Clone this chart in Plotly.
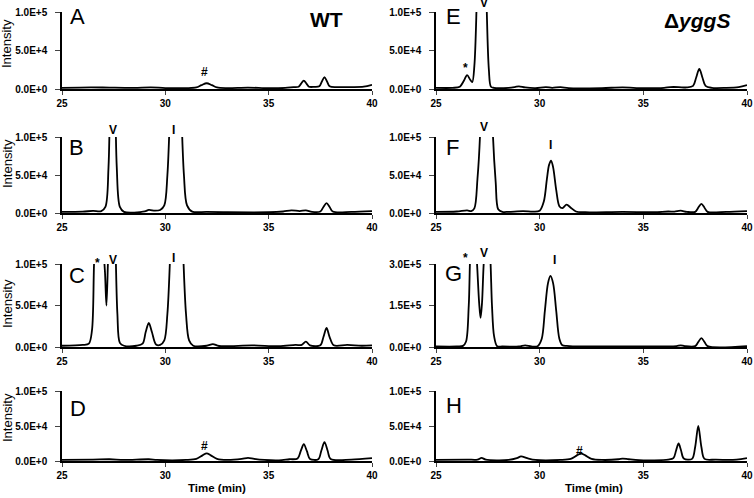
import plotly.graph_objects as go

W, H = 754, 498

# ---- chromatogram traces (time in min, intensity) ----
# A: WT, first sample
time_a = [25.0, 26.4, 27.3, 28.5, 29.3, 30.0, 31.0, 31.5, 31.75, 32.0, 32.25, 32.5, 33.0, 34.0, 35.0, 35.8,
          36.2, 36.45, 36.57, 36.7, 36.83, 36.95, 37.2, 37.45, 37.57, 37.7, 37.83, 37.95, 38.3, 39.0, 39.6, 40.0]
int_a = [1500, 2200, 1800, 1500, 2200, 1200, 1200, 2000, 5000, 7500, 5000, 2000, 1200, 1800, 1000, 1500,
         2500, 3000, 7000, 11000, 7000, 3000, 2800, 3500, 9500, 15500, 9500, 3500, 2500, 2500, 3000, 5500]

# B: WT
time_b = [25.0, 26.0, 26.5, 26.9, 27.1, 27.25, 27.35, 27.45, 27.55, 27.65, 27.8, 28.0, 29.0, 29.2, 29.5, 29.75,
          29.95, 30.1, 30.25, 30.5, 30.75, 30.9, 31.05, 31.3, 32.0, 33.0, 35.0, 35.7, 36.1, 36.5, 36.8, 37.1,
          37.5, 37.65, 37.8, 37.95, 38.1, 39.0, 40.0]
int_b = [1500, 1800, 2800, 2500, 8000, 60000, 200000, 300000, 200000, 60000, 8000, 1500, 2000, 4000, 3000, 4000,
         10000, 50000, 150000, 300000, 150000, 50000, 10000, 1800, 1500, 1000, 1000, 2000, 3500, 2500, 3500, 1500,
         2000, 8000, 13000, 8000, 2000, 1500, 2500]

# C: WT
time_c = [25.0, 26.0, 26.3, 26.45, 26.55, 26.7, 26.85, 26.98, 27.08, 27.15, 27.22, 27.35, 27.5, 27.6, 27.68,
          27.8, 28.0, 28.6, 28.9, 29.05, 29.2, 29.35, 29.55, 29.75, 29.95, 30.1, 30.25, 30.55, 30.85, 31.0,
          31.15, 31.35, 32.0, 32.3, 32.6, 34.2, 35.5, 36.3, 36.6, 36.8, 37.0, 37.5, 37.65, 37.8, 37.95, 38.15,
          38.8, 39.5, 40.0]
int_c = [1500, 2500, 4000, 20000, 100000, 200000, 200000, 130000, 90000, 50000, 100000, 250000, 220000, 110000,
         40000, 5000, 1500, 1500, 4000, 18000, 29000, 18000, 3000, 2500, 8000, 40000, 120000, 300000, 120000,
         40000, 8000, 1500, 1500, 3500, 1200, 2000, 1000, 2500, 2500, 6500, 2000, 2000, 12000, 23000, 12000,
         2000, 2500, 1500, 2000]

# D: WT
time_d = [25.0, 26.5, 27.3, 28.0, 29.2, 29.6, 31.0, 31.5, 31.8, 32.0, 32.2, 32.5, 33.0, 33.7, 34.0, 34.3, 34.8,
          35.5, 36.0, 36.4, 36.55, 36.7, 36.85, 37.0, 37.4, 37.55, 37.7, 37.85, 38.0, 39.0, 40.0]
int_d = [1500, 2000, 2500, 1500, 2500, 1500, 1500, 3000, 8000, 11000, 8000, 3000, 1500, 3000, 4500, 3000, 1500,
         1000, 2500, 3500, 14000, 24000, 14000, 3000, 2500, 15000, 27000, 15000, 3000, 2000, 4000]

# E: delta yggS
time_e = [25.0, 25.8, 26.15, 26.35, 26.5, 26.65, 26.75, 26.85, 26.95, 27.05, 27.2, 27.35, 27.45, 27.55, 27.65,
          27.8, 28.5, 28.8, 29.0, 29.3, 29.8, 30.3, 30.6, 31.0, 31.4, 33.0, 34.0, 35.0, 36.0, 36.3, 36.7, 37.1,
          37.4, 37.55, 37.7, 37.85, 38.0, 38.3, 39.0, 39.6, 40.0]
int_e = [1500, 1500, 3000, 11000, 18000, 12000, 9000, 30000, 100000, 250000, 350000, 250000, 100000, 25000,
         3000, 1500, 1500, 2500, 3500, 2000, 1200, 2500, 1500, 2500, 1200, 1200, 2000, 1000, 1500, 2500, 2500,
         2000, 4000, 15000, 26000, 15000, 4000, 1500, 1500, 2500, 5000]

# F: delta yggS
time_f = [25.0, 26.0, 26.5, 26.7, 26.85, 27.0, 27.12, 27.25, 27.45, 27.62, 27.75, 27.88, 28.0, 28.2, 28.5,
          29.2, 29.7, 30.0, 30.2, 30.35, 30.45, 30.55, 30.65, 30.8, 30.95, 31.1, 31.3, 31.5, 31.75, 32.2, 34.0,
          35.5, 36.2, 36.5, 36.8, 37.1, 37.5, 37.65, 37.8, 37.95, 38.1, 39.0, 40.0]
int_f = [1500, 2000, 3500, 2500, 6000, 45000, 100000, 250000, 450000, 250000, 100000, 40000, 5000, 1500, 1500,
         2500, 1800, 3000, 15000, 45000, 63000, 69000, 60000, 30000, 9000, 6500, 11000, 7000, 2000, 1000, 1500,
         1000, 2000, 1800, 3000, 1500, 1500, 7000, 12000, 7000, 1500, 1500, 2500]

# G: delta yggS (0 - 3E+5 scale)
time_g = [25.0, 26.0, 26.3, 26.45, 26.58, 26.7, 26.85, 26.98, 27.08, 27.15, 27.22, 27.3, 27.45, 27.6, 27.7,
          27.8, 27.95, 28.2, 29.0, 29.3, 29.6, 29.9, 30.1, 30.25, 30.4, 30.52, 30.65, 30.8, 30.95, 31.1, 31.3,
          31.6, 34.0, 36.0, 36.6, 36.8, 37.0, 37.5, 37.65, 37.8, 37.95, 38.1, 40.0]
int_g = [2000, 2000, 4000, 20000, 150000, 400000, 450000, 300000, 160000, 105000, 160000, 300000, 450000,
         350000, 150000, 40000, 3000, 2000, 2000, 6000, 2000, 3000, 30000, 130000, 230000, 257000, 230000,
         130000, 30000, 6000, 4000, 2500, 2000, 2500, 3500, 6000, 3000, 3000, 18000, 32000, 18000, 3000, 3000]

# H: delta yggS
time_h = [25.0, 26.5, 27.0, 27.2, 27.4, 28.5, 28.9, 29.1, 29.4, 29.8, 31.0, 31.5, 31.8, 32.0, 32.2, 32.5, 33.0,
          33.8, 34.0, 34.3, 34.8, 35.5, 36.2, 36.45, 36.58, 36.7, 36.82, 36.95, 37.35, 37.5, 37.65, 37.8, 37.95,
          38.5, 39.5, 40.0]
int_h = [1500, 2000, 2000, 4500, 2000, 1500, 4000, 6500, 4000, 1500, 1500, 3000, 8000, 10500, 8000, 3000, 1500,
         2500, 3500, 2500, 1200, 1000, 2000, 4000, 15000, 25000, 15000, 3500, 3000, 20000, 50000, 20000, 3000,
         2000, 2000, 4000]

# ---- axis ticks ----
time_ticks = [25, 30, 35, 40]
ticks_1e5 = [0, 50000, 100000]
ticklabels_1e5 = ["0.0E+0", "5.0E+4", "1.0E+5"]
ticks_3e5 = [0, 150000, 300000]
ticklabels_3e5 = ["0.0E+0", "1.5E+5", "3.0E+5"]

FONT = "Liberation Sans, Arial, sans-serif"


def fy(px):
    return 1 - px / H


rows_px = [(12, 89), (137, 213), (264, 347), (391, 461)]
cols_px = [(62, 372), (436, 747)]

panels = [
    ("A", time_a, int_a, 0, 0, 1e5), ("B", time_b, int_b, 0, 1, 1e5),
    ("C", time_c, int_c, 0, 2, 1e5), ("D", time_d, int_d, 0, 3, 1e5),
    ("E", time_e, int_e, 1, 0, 1e5), ("F", time_f, int_f, 1, 1, 1e5),
    ("G", time_g, int_g, 1, 2, 3e5), ("H", time_h, int_h, 1, 3, 1e5),
]

# letter positions (left edge px, centre px)
letter_pos = {"A": (68, 17), "B": (67, 147), "C": (67, 275), "D": (68, 408),
              "E": (444, 17), "F": (444, 147), "G": (443, 273), "H": (444, 405)}

# peak markers (text, x px, y px)
peak_marks = [("#", 205, 72), ("V", 113, 130), ("I", 173, 130),
              ("*", 97, 263), ("V", 113, 260), ("I", 173, 258), ("#", 204, 446),
              ("*", 465, 68), ("V", 484, 3), ("V", 484, 127), ("I", 550, 145),
              ("*", 465, 258), ("V", 484, 253), ("I", 554, 260), ("#", 579, 451)]

fig = go.Figure()
layout = {}
annotations = []


def label(text, px, py, size, **kw):
    d = dict(text=text, x=px / W, y=fy(py), xref="paper", yref="paper",
             xanchor="center", yanchor="middle", showarrow=False,
             font=dict(family=FONT, size=size, color="black"))
    d.update(kw)
    annotations.append(d)


for k, (letter, t, y, col, row, ymax) in enumerate(panels, start=1):
    sx = "" if k == 1 else str(k)
    fig.add_trace(go.Scatter(
        x=t, y=y, mode="lines",
        line=dict(color="black", width=1.8, shape="spline", smoothing=0.9),
        xaxis="x" + sx, yaxis="y" + sx, showlegend=False, hoverinfo="skip"))
    x0, x1 = cols_px[col]
    y0, y1 = rows_px[row]
    layout["xaxis" + sx] = dict(
        domain=[x0 / W, x1 / W], range=[25, 40], anchor="y" + sx, automargin=False,
        tickvals=time_ticks, ticks="outside", ticklen=4, tickwidth=1.2,
        showline=True, linecolor="black", linewidth=1.5, showgrid=False, zeroline=False,
        tickfont=dict(family=FONT, size=10, color="black", weight="bold"))
    if ymax > 1e5:
        tv, tt = ticks_3e5, ticklabels_3e5
    else:
        tv, tt = ticks_1e5, ticklabels_1e5
    layout["yaxis" + sx] = dict(
        domain=[fy(y1), fy(y0)], range=[0, ymax], anchor="x" + sx, automargin=False,
        tickvals=tv, ticktext=tt, ticks="outside", ticklen=5, tickwidth=1.2,
        showline=True, linecolor="black", linewidth=1.5, showgrid=False, zeroline=False,
        ticklabelstandoff=6,
        tickfont=dict(family=FONT, size=10, color="black", weight="bold"))
    lx, ly = letter_pos[letter]
    label(letter, lx, ly, 22, xanchor="left")

for txt, px, py in peak_marks:
    label("<b>%s</b>" % txt, px, py, 12)

# strain titles
label("<b>WT</b>", 326, 19, 21)
label("<b>Δ<i>yggS</i></b>", 697, 21, 21)

# y titles (left column only)
for cy in [44, 164, 304, 418]:
    label("Intensity", 7, cy, 13, textangle=-90)

# x titles (bottom row)
for cx in [217, 594]:
    label("<b>Time (min)</b>", cx, 488, 11.5)

fig.update_layout(
    width=W, height=H, margin=dict(l=0, r=0, t=0, b=0, autoexpand=False),
    paper_bgcolor="white", plot_bgcolor="white",
    annotations=annotations, **layout)

fig.write_html("out.html", config={"displayModeBar": False},
               post_script="document.body.style.margin='0';")
